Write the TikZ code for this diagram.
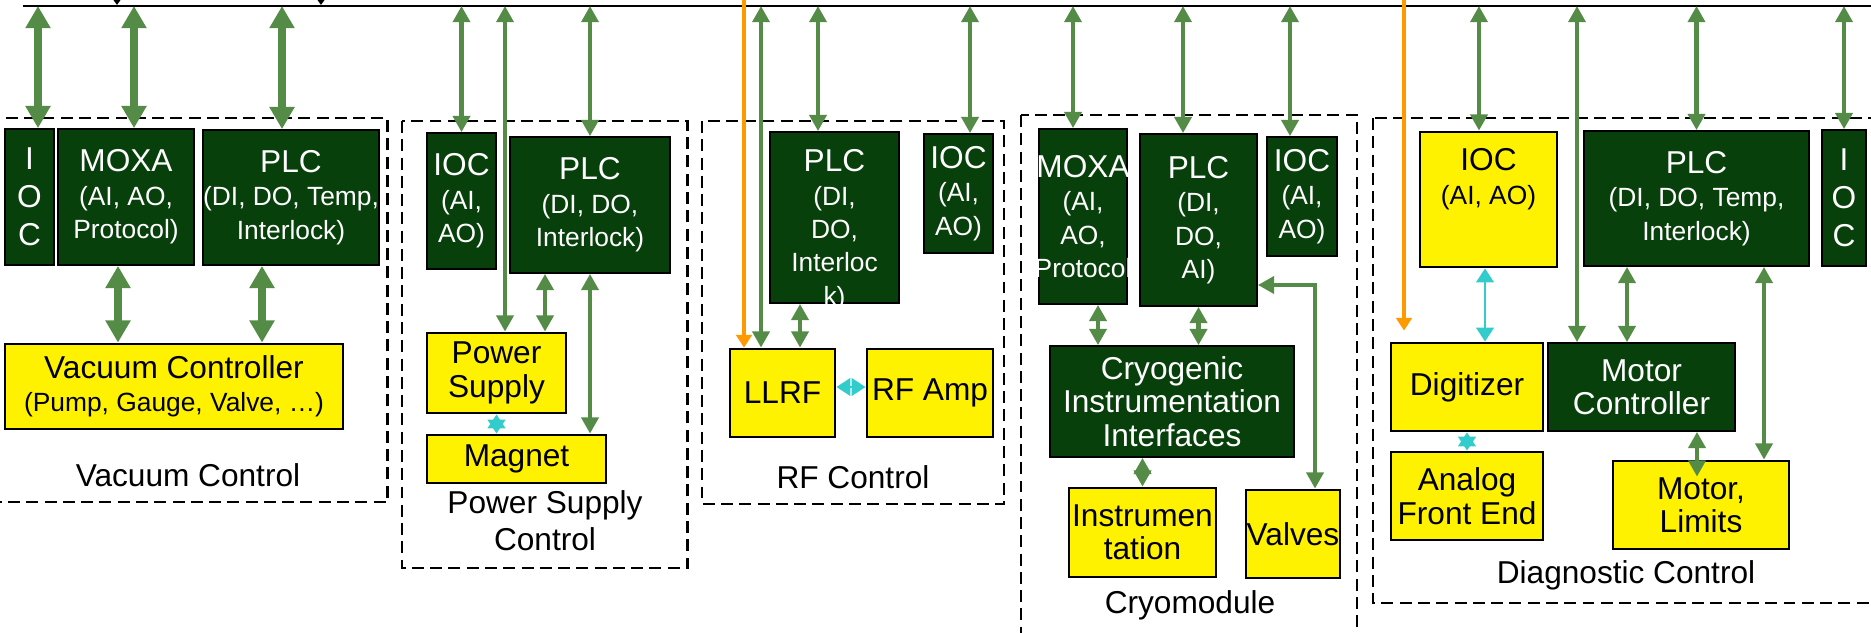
\documentclass[tikz,border=0pt]{standalone}
\usepackage{fontspec}
\setmainfont{Liberation Sans}
\usepackage{tikz}
\usetikzlibrary{arrows.meta}
\definecolor{dkgreen}{RGB}{8,64,12}
\definecolor{argreen}{RGB}{84,139,70}
\definecolor{cyanar}{RGB}{51,204,204}
\definecolor{orangear}{RGB}{255,153,0}
\newcommand{\subtxt}{\fontsize{7.5}{9}\selectfont}

\begin{document}
\begin{tikzpicture}[font=\fontsize{9}{9.5}\selectfont,
  dkbox/.style={draw=black, line width=0.5pt, fill=dkgreen, text=white, inner sep=0pt, align=center},
  ylbox/.style={draw=black, line width=0.8pt, fill=yellow, text=black, inner sep=0pt, align=center},
  grpbox/.style={draw=black, line width=0.6pt, dash pattern=on 3.4pt off 1.8pt},
  grplbl/.style={inner sep=0pt, align=center},
  bigarr/.style={draw=argreen, line width=2.5pt, >={Triangle[length=6.3pt,width=6.8pt]}, <->},
  midarr/.style={draw=argreen, line width=1.4pt, >={Triangle[length=4.6pt,width=4.8pt]}, <->},
  cyarr/.style={draw=cyanar, line width=0.8pt, >={Triangle[length=4pt,width=5pt]}, <->},
  orarr/.style={draw=orangear, line width=1.3pt, >={Triangle[length=3.6pt,width=4.4pt]}, ->}]
\useasboundingbox (0,0) rectangle (18.71,-6.32);
\clip (0,0) rectangle (18.71,-6.32);
% network line on top
\coordinate (sky) at (0,0.3);
\coordinate (busL) at (0.23,-0.06);
\coordinate (busR) at (18.75,-0.06);
\coordinate (tapA) at (1.17,-0.05);
\coordinate (tapB) at (3.21,-0.05);
\draw[line width=0.6pt] (busL) -- (busR);
\foreach \t in {tapA,tapB}
  \draw[line width=0.5pt, -{Triangle[length=1.8pt,width=2.4pt]}] ([yshift=0.3cm]\t) -- (\t);
% dashed groups
\draw[grpbox] (-0.1,-1.18) rectangle (3.875,-5.02);
\draw[grpbox] (4.02,-1.21) rectangle (6.875,-5.68);
\draw[grpbox] (7.02,-1.21) rectangle (10.04,-5.04);
\draw[grpbox] (10.21,-1.15) rectangle (13.57,-6.6);
\draw[grpbox] (13.73,-1.18) rectangle (19.0,-6.03);

% vacuum control
\node[dkbox, minimum width=0.49cm, minimum height=1.36cm, font=\fontsize{9}{10.8}\selectfont] (vioc) at (0.295,-1.97) {I\\O\\C};
\node[dkbox, minimum width=1.36cm, minimum height=1.36cm] (vmoxa) at (1.26,-1.97) {MOXA\\{\subtxt (AI, AO,}\\{\subtxt Protocol)}};
\node[dkbox, minimum width=1.76cm, minimum height=1.35cm] (vplc) at (2.91,-1.975) {PLC\\{\subtxt (DI, DO, Temp,}\\{\subtxt Interlock)}};
\node[ylbox, minimum width=3.38cm, minimum height=0.85cm] (vctrl) at (1.74,-3.865) {Vacuum Controller\\{\subtxt (Pump, Gauge, Valve, …)}};
\node[grplbl] (vlbl) at (1.88,-4.75) {Vacuum Control};

% power supply control
\node[dkbox, minimum width=0.69cm, minimum height=1.36cm] (psioc) at (4.615,-2.01) {IOC\\{\subtxt (AI,}\\{\subtxt AO)}};
\node[dkbox, minimum width=1.60cm, minimum height=1.36cm] (psplc) at (5.90,-2.05) {PLC\\{\subtxt (DI, DO,}\\{\subtxt Interlock)}};
\node[ylbox, minimum width=1.39cm, minimum height=0.80cm] (pssup) at (4.965,-3.73) {Power\\Supply};
\node[ylbox, minimum width=1.79cm, minimum height=0.48cm] (psmag) at (5.165,-4.59) {Magnet};
\node[grplbl, font=\fontsize{9}{10.5}\selectfont] (pslbl) at (5.45,-5.21) {Power Supply\\Control};

% rf control
\node[dkbox, minimum width=1.29cm, minimum height=1.71cm] (rfplc) at (8.345,-2.175) {};
\node[inner sep=0pt, align=center, text=white, anchor=north] (rfplctxt) at (8.345,-1.49) {PLC\\{\subtxt (DI,}\\{\subtxt DO,}\\{\subtxt Interloc}\\{\subtxt k)}};
\node[dkbox, minimum width=0.69cm, minimum height=1.19cm] (rfioc) at (9.585,-1.935) {IOC\\{\subtxt (AI,}\\{\subtxt AO)}};
\node[ylbox, minimum width=1.05cm, minimum height=0.88cm] (llrf) at (7.825,-3.93) {LLRF};
\node[ylbox, minimum width=1.26cm, minimum height=0.88cm] (rfamp) at (9.30,-3.93) {RF Amp};
\node[grplbl] (rflbl) at (8.53,-4.77) {RF Control};

% cryomodule
\node[dkbox, minimum width=0.88cm, minimum height=1.75cm] (cmoxa) at (10.83,-2.165) {\makebox[0pt]{MOXA}\\{\subtxt (AI,}\\{\subtxt AO,}\\{\subtxt \makebox[0pt]{Protocol}}};
\node[dkbox, minimum width=1.17cm, minimum height=1.72cm] (cplc) at (11.985,-2.20) {PLC\\{\subtxt (DI,}\\{\subtxt DO,}\\{\subtxt AI)}};
\node[dkbox, minimum width=0.70cm, minimum height=1.19cm] (cioc) at (13.02,-1.965) {IOC\\{\subtxt (AI,}\\{\subtxt AO)}};
\node[dkbox, minimum width=2.44cm, minimum height=1.11cm] (cintf) at (11.72,-4.015) {Cryogenic\\Instrumentation\\Interfaces};
\node[ylbox, minimum width=1.47cm, minimum height=0.89cm] (cinst) at (11.425,-5.325) {Instrumen\\tation};
\node[ylbox, minimum width=0.94cm, minimum height=0.88cm] (cvalv) at (12.93,-5.34) {\makebox[0pt]{Valves}};
\node[grplbl] (crlbl) at (11.90,-6.05) {Cryomodule};

% diagnostic control
\node[ylbox, minimum width=1.37cm, minimum height=1.35cm] (dioc) at (14.885,-1.995) {};
\node[inner sep=0pt, align=center, anchor=north] (dioctxt) at (14.885,-1.48) {IOC\\{\subtxt (AI, AO)}};
\node[dkbox, minimum width=2.25cm, minimum height=1.35cm] (dplc) at (16.965,-1.985) {PLC\\{\subtxt (DI, DO, Temp,}\\{\subtxt Interlock)}};
\node[dkbox, minimum width=0.44cm, minimum height=1.36cm, font=\fontsize{9}{10.8}\selectfont] (dioc2) at (18.44,-1.98) {I\\O\\C};
\node[ylbox, minimum width=1.52cm, minimum height=0.88cm] (ddig) at (14.67,-3.87) {Digitizer};
\node[dkbox, minimum width=1.87cm, minimum height=0.88cm] (dmc) at (16.415,-3.87) {Motor\\Controller};
\node[ylbox, minimum width=1.52cm, minimum height=0.88cm] (dafe) at (14.67,-4.96) {Analog\\Front End};
\node[ylbox, minimum width=1.76cm, minimum height=0.88cm] (dmot) at (17.01,-5.05) {Motor,\\Limits};
\node[grplbl] (dlbl) at (16.26,-5.75) {Diagnostic Control};

% vacuum links
\draw[bigarr] ([xshift=0.085cm]vioc.north) -- ([xshift=0.085cm]vioc.north |- busL);
\draw[bigarr] ([xshift=0.08cm]vmoxa.north) -- ([xshift=0.08cm]vmoxa.north |- busL);
\draw[bigarr] ([xshift=-0.09cm]vplc.north) -- ([xshift=-0.09cm]vplc.north |- busL);
\draw[bigarr] ([xshift=-0.08cm]vmoxa.south) -- ([xshift=-0.08cm]vmoxa.south |- vctrl.north);
\draw[bigarr] ([xshift=-0.29cm]vplc.south) -- ([xshift=-0.29cm]vplc.south |- vctrl.north);
% power supply links
\draw[midarr] (psioc.north) -- (psioc.north |- busL);
\draw[midarr] ([xshift=0.085cm]pssup.north) -- ([xshift=0.085cm]pssup.north |- busL);
\draw[midarr] (psplc.north) -- (psplc.north |- busL);
\draw[midarr] ([xshift=-0.45cm]psplc.south) -- ([xshift=-0.45cm]psplc.south |- pssup.north);
\draw[midarr] (psplc.south) -- (psplc.south |- psmag.north);
\draw[cyarr] (pssup.south) -- (pssup.south |- psmag.north);
% rf links
\draw[orarr] ([xshift=-0.385cm]llrf.north |- sky) -- ([xshift=-0.385cm]llrf.north);
\draw[midarr] ([xshift=-0.215cm]llrf.north) -- ([xshift=-0.215cm]llrf.north |- busL);
\draw[midarr] ([xshift=-0.165cm]rfplc.north) -- ([xshift=-0.165cm]rfplc.north |- busL);
\draw[midarr] ([xshift=0.115cm]rfioc.north) -- ([xshift=0.115cm]rfioc.north |- busL);
\draw[midarr] ([xshift=0.175cm]llrf.north) -- ([xshift=0.175cm]llrf.north |- rfplc.south);
\draw[cyarr] ([yshift=0.06cm]llrf.east) -- ([yshift=0.06cm]llrf.east -| rfamp.west);
% cryomodule links
\draw[midarr] ([xshift=-0.10cm]cmoxa.north) -- ([xshift=-0.10cm]cmoxa.north |- busL);
\draw[midarr] ([xshift=-0.155cm]cplc.north) -- ([xshift=-0.155cm]cplc.north |- busL);
\draw[midarr] ([xshift=-0.12cm]cioc.north) -- ([xshift=-0.12cm]cioc.north |- busL);
\draw[midarr] ([xshift=0.15cm]cmoxa.south) -- ([xshift=0.15cm]cmoxa.south |- cintf.north);
\draw[midarr] (cplc.south) -- (cplc.south |- cintf.north);
\draw[midarr] (cinst.north) -- (cinst.north |- cintf.south);
\draw[midarr] ([yshift=-0.65cm]cplc.east) -| ([xshift=0.22cm]cvalv.north);
% diagnostic links
\draw[orarr] ([xshift=-0.63cm]ddig.north |- sky) -- ([xshift=-0.63cm,yshift=0.11cm]ddig.north);
\draw[midarr] ([xshift=-0.095cm]dioc.north) -- ([xshift=-0.095cm]dioc.north |- busL);
\draw[midarr] (dplc.north) -- (dplc.north |- busL);
\draw[midarr] (dioc2.north) -- (dioc2.north |- busL);
\draw[midarr] ([xshift=-0.645cm]dmc.north) -- ([xshift=-0.645cm]dmc.north |- busL);
\draw[cyarr] ([xshift=0.18cm]ddig.north) -- ([xshift=0.18cm]ddig.north |- dioc.south);
\draw[midarr] ([xshift=-0.145cm]dmc.north) -- ([xshift=-0.145cm]dmc.north |- dplc.south);
\draw[midarr] ([xshift=0.63cm]dmot.north) -- ([xshift=0.63cm]dmot.north |- dplc.south);
\draw[midarr] ([xshift=-0.04cm,yshift=-0.17cm]dmot.north) -- ([xshift=-0.04cm]dmot.north |- dmc.south);
\draw[cyarr] (ddig.south) -- (dafe.north);
\end{tikzpicture}
\end{document}
